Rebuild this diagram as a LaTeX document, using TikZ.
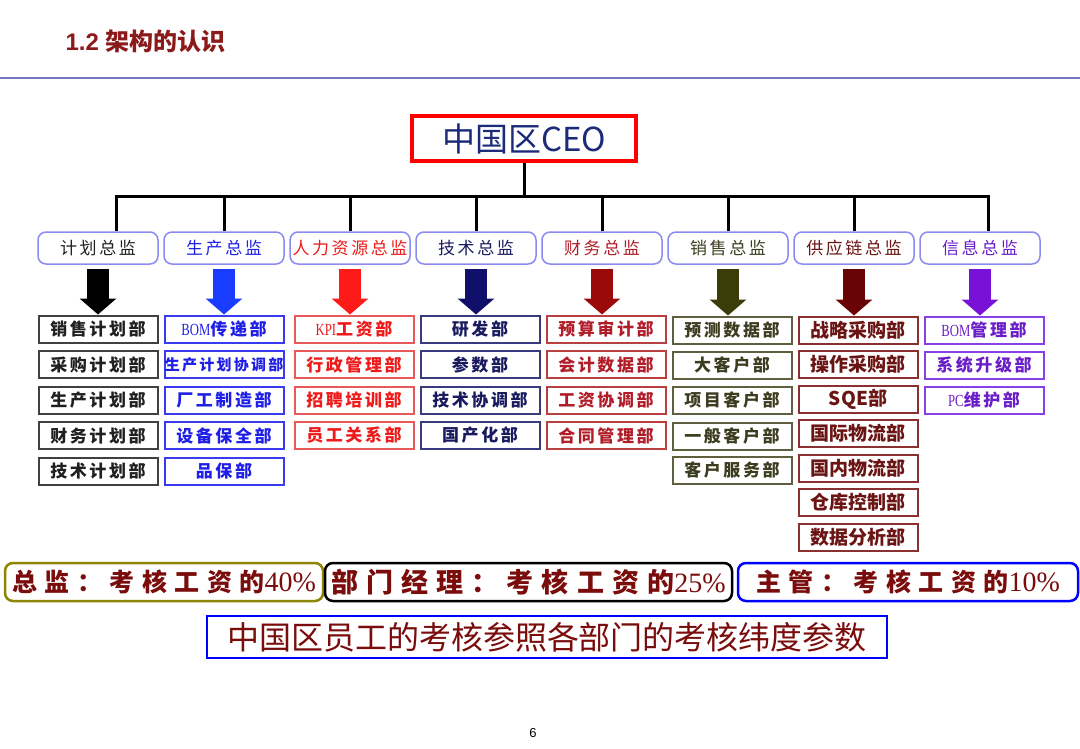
\documentclass[tikz,border=0pt]{standalone}
\usepackage{xcolor}
\usepackage{fontspec}
\setmainfont{Liberation Sans}
\newfontfamily\cjk{Noto Sans CJK SC}
\newfontfamily\cjkwide[LetterSpace=15]{Noto Sans CJK SC}
\newfontfamily\cjkbig[LetterSpace=30]{Noto Sans CJK SC}
\newfontfamily\serifnum{Liberation Serif}
\newfontfamily\serifnarrow[FakeStretch=0.75]{Liberation Serif}
\usepackage{tikz}
\usetikzlibrary{arrows.meta,positioning}

% colours per department
\definecolor{titlered}{HTML}{8B1A1A}
\definecolor{rulecol}{HTML}{7878C0}
\definecolor{ceoblue}{HTML}{1C2A7A}
\definecolor{dirline}{HTML}{8A8AF0}
\definecolor{bottomred}{HTML}{7A0C0C}
\definecolor{planline}{HTML}{404040}\definecolor{plantext}{HTML}{202020}\definecolor{planarrow}{HTML}{000000}
\definecolor{prodline}{HTML}{3A3AF0}\definecolor{prodtext}{HTML}{1E1EE6}\definecolor{prodarrow}{HTML}{1A3CFF}
\definecolor{hrline}{HTML}{E85A5A}\definecolor{hrtext}{HTML}{EE1A1A}\definecolor{hrarrow}{HTML}{FF1A1A}
\definecolor{techline}{HTML}{3A3A80}\definecolor{techtext}{HTML}{1A1A5E}\definecolor{techarrow}{HTML}{10106A}
\definecolor{finline}{HTML}{B84040}\definecolor{fintext}{HTML}{B01C28}\definecolor{finarrow}{HTML}{9A0A0A}
\definecolor{salesline}{HTML}{606040}\definecolor{salestext}{HTML}{3C3C20}\definecolor{salesarrow}{HTML}{3C3C08}
\definecolor{supplyline}{HTML}{8A3030}\definecolor{supplytext}{HTML}{6B1414}\definecolor{supplyarrow}{HTML}{6A0404}
\definecolor{infoline}{HTML}{8A40E8}\definecolor{infotext}{HTML}{6A1EC8}\definecolor{infoarrow}{HTML}{7812D8}

\begin{document}
\begin{tikzpicture}[x=1pt, y=-1pt, node distance=126pt,
  director/.style={rectangle, draw=dirline, line width=1.5pt, rounded corners=8pt, minimum width=120pt, minimum height=32pt, inner sep=0pt, text=#1text, font=\cjkwide\fontsize{17}{19}\selectfont},
  dept/.style={rectangle, draw=#1line, line width=2pt, minimum width=119pt, minimum height=27pt, inner sep=0pt, text=#1text, font=\cjkwide\bfseries\fontsize{17}{19}\selectfont},
  deptplain/.style={dept=#1, font=\cjk\bfseries\fontsize{19}{21}\selectfont},
  bigarrow/.style={draw=#1arrow, line width=22pt, -{Triangle[length=16pt,width=36pt]}},
  sumbox/.style={rectangle, rounded corners=8pt, line width=2.5pt, minimum height=38pt, inner sep=0pt, text=bottomred, font=\cjkbig\bfseries\fontsize{25}{28}\selectfont}]
\useasboundingbox (0,0) rectangle (1080,748);

% heading
\node[anchor=west, text=titlered, font=\bfseries\fontsize{24}{28}\selectfont] (title) at (62,41) {1.2 {\cjk 架构的认识}};
\draw[line width=2pt, draw=rulecol] (0,78) -- (1080,78);

\node[rectangle, draw=red, line width=3.5pt, minimum width=224pt, minimum height=45pt, inner sep=0pt, text=ceoblue, font=\cjk\fontsize{33}{36}\selectfont] (ceo) at (524,138.5) {中国区CEO};

% directors
\node[director=plan] (d1) at (98,248) {计划总监};
\node[director=prod, right of=d1] (d2) {生产总监};
\node[director=hr, right of=d2] (d3) {人力资源总监};
\node[director=tech, right of=d3] (d4) {技术总监};
\node[director=fin, right of=d4] (d5) {财务总监};
\node[director=sales, right of=d5] (d6) {销售总监};
\node[director=supply, right of=d6] (d7) {供应链总监};
\node[director=info, right of=d7] (d8) {信息总监};

% tree lines
\coordinate[below=34pt of ceo.south] (bus);
\draw[line width=3pt] (ceo.south) -- (bus);
\draw[line width=3pt] ([xshift=18pt]d1.north) |- (bus) -| ([xshift=8pt]d8.north);
\draw[line width=3pt] (d2.north) -- (d2.north |- bus);
\draw[line width=3pt] (d3.north) -- (d3.north |- bus);
\draw[line width=3pt] (d4.north) -- (d4.north |- bus);
\draw[line width=3pt] (d5.north) -- (d5.north |- bus);
\draw[line width=3pt] (d6.north) -- (d6.north |- bus);
\draw[line width=3pt] (d7.north) -- (d7.north |- bus);

% plan
\node[dept=plan, below of=d1, node distance=81pt] (p1) {销售计划部};
\node[dept=plan, below of=p1, node distance=35.5pt] (p2) {采购计划部};
\node[dept=plan, below of=p2, node distance=35.5pt] (p3) {生产计划部};
\node[dept=plan, below of=p3, node distance=35.5pt] (p4) {财务计划部};
\node[dept=plan, below of=p4, node distance=35.5pt] (p5) {技术计划部};
% production
\node[dept=prod, below of=d2, node distance=81pt] (m1) {{\serifnarrow\mdseries BOM}传递部};
\node[dept=prod, below of=m1, node distance=35.5pt, font=\cjkwide\bfseries\fontsize{15}{17}\selectfont] (m2) {生产计划协调部};
\node[dept=prod, below of=m2, node distance=35.5pt] (m3) {厂工制造部};
\node[dept=prod, below of=m3, node distance=35.5pt] (m4) {设备保全部};
\node[dept=prod, below of=m4, node distance=35.5pt] (m5) {品保部};
% hr
\node[dept=hr, below of=d3, node distance=81pt, xshift=4pt] (h1) {{\serifnarrow\mdseries KPI}工资部};
\node[dept=hr, below of=h1, node distance=35.5pt] (h2) {行政管理部};
\node[dept=hr, below of=h2, node distance=35.5pt] (h3) {招聘培训部};
\node[dept=hr, below of=h3, node distance=35.5pt] (h4) {员工关系部};
% tech
\node[dept=tech, below of=d4, node distance=81pt, xshift=4pt] (t1) {研发部};
\node[dept=tech, below of=t1, node distance=35.5pt] (t2) {参数部};
\node[dept=tech, below of=t2, node distance=35.5pt] (t3) {技术协调部};
\node[dept=tech, below of=t3, node distance=35.5pt] (t4) {国产化部};
% finance
\node[dept=fin, below of=d5, node distance=81pt, xshift=4pt] (f1) {预算审计部};
\node[dept=fin, below of=f1, node distance=35.5pt] (f2) {会计数据部};
\node[dept=fin, below of=f2, node distance=35.5pt] (f3) {工资协调部};
\node[dept=fin, below of=f3, node distance=35.5pt] (f4) {合同管理部};
% sales
\node[dept=sales, below of=d6, node distance=82pt, xshift=4pt] (s1) {预测数据部};
\node[dept=sales, below of=s1, node distance=35pt] (s2) {大客户部};
\node[dept=sales, below of=s2, node distance=35pt] (s3) {项目客户部};
\node[dept=sales, below of=s3, node distance=36pt] (s4) {一般客户部};
\node[dept=sales, below of=s4, node distance=34pt] (s5) {客户服务部};
% supply chain
\node[deptplain=supply, below of=d7, node distance=82pt, xshift=4pt] (g1) {战略采购部};
\node[deptplain=supply, below of=g1, node distance=34.5pt] (g2) {操作采购部};
\node[deptplain=supply, below of=g2, node distance=34.5pt] (g3) {SQE部};
\node[deptplain=supply, below of=g3, node distance=34.5pt] (g4) {国际物流部};
\node[deptplain=supply, below of=g4, node distance=34.5pt] (g5) {国内物流部};
\node[deptplain=supply, below of=g5, node distance=34.5pt] (g6) {仓库控制部};
\node[deptplain=supply, below of=g6, node distance=34.5pt] (g7) {数据分析部};
% information
\node[dept=info, below of=d8, node distance=82pt, xshift=4pt] (i1) {{\serifnarrow\mdseries BOM}管理部};
\node[dept=info, below of=i1, node distance=35pt] (i2) {系统升级部};
\node[dept=info, below of=i2, node distance=35pt] (i3) {{\serifnarrow\mdseries PC}维护部};

% block arrows
\draw[bigarrow=plan] ([yshift=-4pt]d1.south) -- (d1.south |- p1.north);
\draw[bigarrow=prod] ([yshift=-4pt]d2.south) -- (d2.south |- m1.north);
\draw[bigarrow=hr] ([yshift=-4pt]d3.south) -- (d3.south |- h1.north);
\draw[bigarrow=tech] ([yshift=-4pt]d4.south) -- (d4.south |- t1.north);
\draw[bigarrow=fin] ([yshift=-4pt]d5.south) -- (d5.south |- f1.north);
\draw[bigarrow=sales] ([yshift=-4pt]d6.south) -- (d6.south |- s1.north);
\draw[bigarrow=supply] ([yshift=-4pt]d7.south) -- (d7.south |- g1.north);
\draw[bigarrow=info] ([yshift=-4pt]d8.south) -- (d8.south |- i1.north);

% summary
\node[sumbox, draw=olive, minimum width=318pt] (zj) at (164,582) {总监：考核工资的{\serifnum\mdseries\fontsize{28}{30}\selectfont 40\%}};
\node[sumbox, draw=black, minimum width=407pt, font=\cjkbig\bfseries\fontsize{27}{30}\selectfont] (jl) at (528.5,582) {部门经理：考核工资的{\serifnum\mdseries\fontsize{28}{30}\selectfont 25\%}};
\node[sumbox, draw=blue, minimum width=340pt] (zg) at (908,582) {主管：考核工资的{\serifnum\mdseries\fontsize{28}{30}\selectfont 10\%}};
\node[rectangle, draw=blue, line width=2.5pt, minimum width=680pt, minimum height=42pt, inner sep=0pt, text=bottomred, font=\cjk\fontsize{32}{34}\selectfont] (note) at (547,637) {中国区员工的考核参照各部门的考核纬度参数};

\node[font=\fontsize{13}{15}\selectfont] (page) at (533,733) {6};
\end{tikzpicture}
\end{document}
